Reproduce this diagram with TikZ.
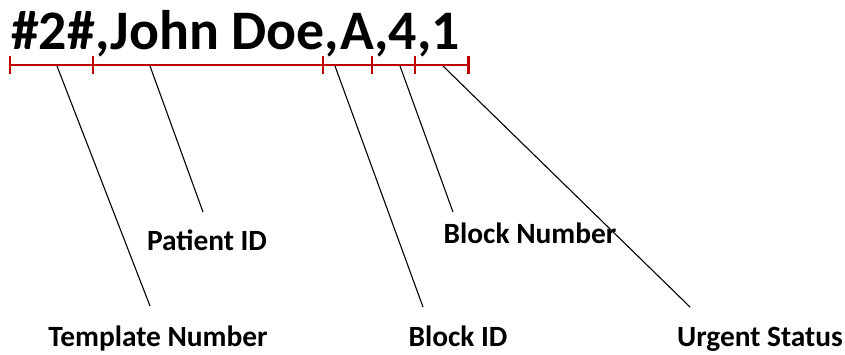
\documentclass[tikz,border=0pt]{standalone}
\usepackage{fontspec}
\setmainfont{Carlito}
\usetikzlibrary{positioning}
\usepackage{xcolor}
\definecolor{cred}{RGB}{192,0,0}

\begin{document}
\begin{tikzpicture}[x=1bp, y=-1bp,
    ruler/.style={draw=cred, line width=3pt},
    lead/.style={draw=black, line width=1.1pt},
    lbl/.style={font=\fontsize{29.5}{32}\selectfont\bfseries, inner sep=0pt, anchor=base},
  ]
  \useasboundingbox (0,0) rectangle (845,354);
  % record string
  \node[font=\fontsize{56}{60}\selectfont\bfseries, anchor=base west, inner sep=0pt]
    (rec) at (11,49) {\#2\#,John Doe,A,4,1};
  % ruler with tick marks
  \foreach \x [count=\i from 0] in {10,93,323,372,415,468}
    \coordinate (t\i) at (\x,65);
  \draw[ruler] (t0) -- (t5);
  \foreach \i in {0,...,5}
    \draw[ruler] ([yshift=9bp]t\i) -- ([yshift=-9bp]t\i);
  % field labels
  \node[lbl] (tmpl) at (158,346) {Template Number};
  \node[lbl] (pid) at (207,250) {Patient ID};
  \node[lbl] (bid) at (458,346) {Block ID};
  \node[lbl] (bnum) at (530,243) {Block Number};
  \node[lbl] (urg) at (760,346) {Urgent Status};
  % leader lines
  \coordinate (s1) at (57,66);   \coordinate (e1) at (150,306);
  \coordinate (s2) at (150,66);  \coordinate (e2) at (203,212);
  \coordinate (s3) at (335,66);  \coordinate (e3) at (423,307);
  \coordinate (s4) at (400,66);  \coordinate (e4) at (453,212);
  \coordinate (s5) at (443,66);  \coordinate (e5) at (690,307);
  \foreach \i in {1,...,5}
    \draw[lead] (s\i) -- (e\i);
\end{tikzpicture}
\end{document}
